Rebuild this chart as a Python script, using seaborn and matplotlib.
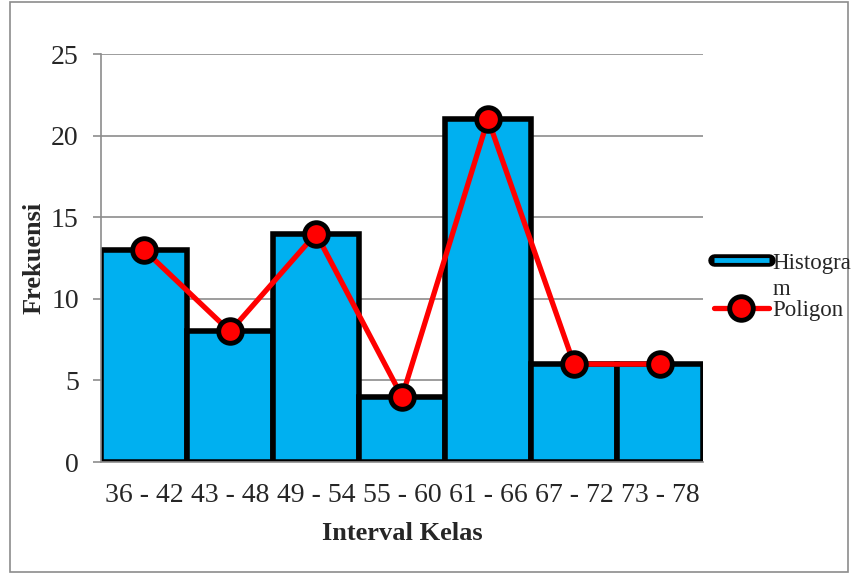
import numpy as np
import pandas as pd
import matplotlib
matplotlib.use("Agg")
import matplotlib.pyplot as plt
import matplotlib.patheffects as pe
from matplotlib.lines import Line2D
import seaborn as sns
from matplotlib.patches import Rectangle

# data
kelas = ["36 - 42", "43 - 48", "49 - 54", "55 - 60", "61 - 66", "67 - 72", "73 - 78"]
frekuensi = [13, 8, 14, 4, 21, 6, 6]

df = pd.DataFrame({"kelas": kelas, "frekuensi": frekuensi})

sns.set_style("white")
plt.rcParams["font.family"] = ["Liberation Serif", "DejaVu Serif"]

fig = plt.figure(figsize=(8.57, 5.74), dpi=100)
ax = fig.add_axes([0.1179, 0.1951, 0.8203 - 0.1179, 0.9059 - 0.1951])

# outer chart frame
fig.patches.append(Rectangle((0.012, 0.003), 0.978, 0.993, transform=fig.transFigure,
                             fill=False, edgecolor="#8c8c8c", linewidth=1.2))

sns.barplot(data=df, x="kelas", y="frekuensi", width=1.0, color="#00B0F0",
            saturation=1, edgecolor="black", linewidth=4, ax=ax, zorder=2)
ax.plot(np.arange(len(kelas)), frekuensi, color="#FF0000", linewidth=3.8,
        marker="o", markersize=17, markerfacecolor="#FF0000",
        markeredgecolor="black", markeredgewidth=3.5, label="Poligon", zorder=3)

ax.set_xlim(-0.5, len(kelas) - 0.5)
ax.set_ylim(0, 25)
ax.set_yticks([0, 5, 10, 15, 20, 25])
ax.yaxis.grid(True, color="#8c8c8c", linewidth=1.2, zorder=0)
ax.set_axisbelow(True)

for s in ["top", "right"]:
    ax.spines[s].set_visible(False)
for s in ["left", "bottom"]:
    ax.spines[s].set_color("#8c8c8c")
    ax.spines[s].set_linewidth(1.2)

ax.set_xticks(np.arange(len(kelas)))
ax.set_xticklabels(kelas)
ax.set_xticks(np.arange(-0.5, len(kelas)), minor=True)
ax.tick_params(axis="x", which="major", length=0, labelsize=20, pad=15)
ax.tick_params(axis="x", which="minor", length=6, width=1.2, color="#8c8c8c", direction="out")
ax.tick_params(axis="y", length=6, width=1.2, color="#8c8c8c", direction="out",
               labelsize=20, left=True, pad=10)

ax.set_xlabel("Interval Kelas", fontsize=19, fontweight="bold", labelpad=10)
ax.set_ylabel("Frekuensi", fontsize=19, fontweight="bold", labelpad=4)

# legend: histogram handle drawn as a blue bar with a thick black outline
hist_handle = Line2D([], [], color="#00B0F0", linewidth=3.5, solid_capstyle="butt",
                     path_effects=[pe.Stroke(linewidth=9, foreground="black", capstyle="round"),
                                   pe.Normal()])
poly_handle = ax.get_legend_handles_labels()[0][0]
leg = fig.legend([hist_handle, poly_handle], ["Histogra\nm", "Poligon"],
                 loc="upper left", bbox_to_anchor=(0.833, 0.559), frameon=False,
                 fontsize=16.5, handlelength=2.4, handletextpad=0.15, labelspacing=0.0,
                 borderaxespad=0.0, borderpad=0.0)
leg.get_texts()[0].set_linespacing(1.3)
# wrapped label: keep the histogram handle level with the first text line
h0 = leg.legend_handles[0]
h0.set_ydata(np.asarray(h0.get_ydata()) + 12)

fig.savefig("out.png", dpi=100)
